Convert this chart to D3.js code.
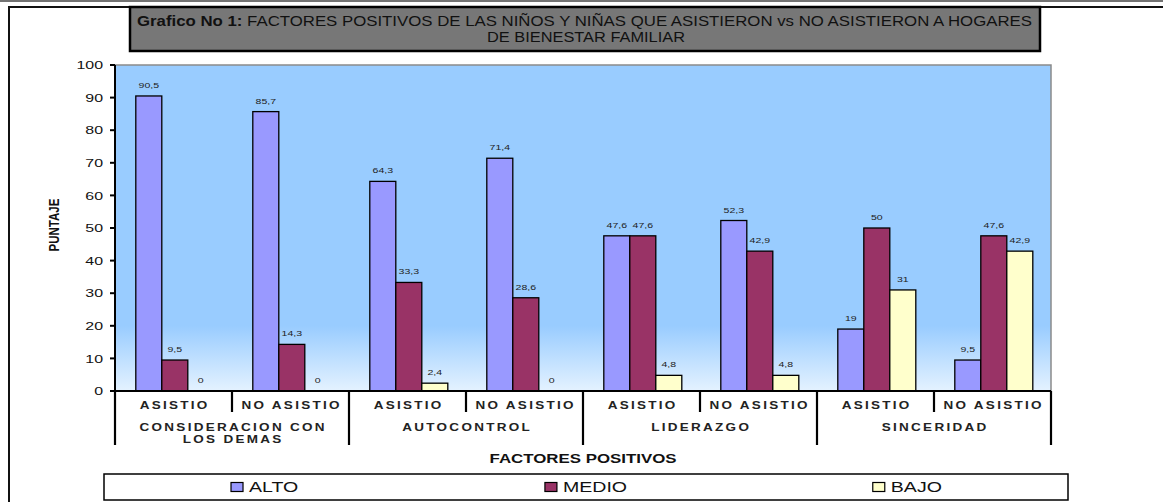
<!DOCTYPE html>
<html>
<head>
<meta charset="utf-8">
<script src="https://cdn.jsdelivr.net/npm/d3@7"></script>
<style>
  html, body { margin: 0; padding: 0; background: #fff; }
  svg { display: block; font-family: "Liberation Sans", Arial, sans-serif; }
</style>
</head>
<body>
<svg id="chart" width="1163" height="502"></svg>
<script>
// ---- data ----
const factors = ["CONSIDERACION CON\nLOS DEMAS", "AUTOCONTROL", "LIDERAZGO", "SINCERIDAD"];
const groups = ["ASISTIO", "NO ASISTIO"];
const seriesNames = ["ALTO", "MEDIO", "BAJO"];
const alto  = [90.5, 85.7, 64.3, 71.4, 47.6, 52.3, 19, 9.5];
const medio = [9.5, 14.3, 33.3, 28.6, 47.6, 42.9, 50, 47.6];
const bajo  = [0, 0, 2.4, 0, 4.8, 4.8, 31, 42.9];
const yTicks = [0, 10, 20, 30, 40, 50, 60, 70, 80, 90, 100];
const seriesColors = ["#9999FF", "#993366", "#FFFFCC"];

const titleBold = "Grafico No 1:";
const titleRest = " FACTORES POSITIVOS DE LAS NIÑOS Y NIÑAS QUE ASISTIERON vs NO ASISTIERON A HOGARES";
const titleLine2 = "DE BIENESTAR FAMILIAR";
const yTitle = "PUNTAJE";
const xTitle = "FACTORES POSITIVOS";

// ---- layout ----
const SX = 1.35; // horizontal stretch applied to the text
const plot = { left: 115, right: 1051, top: 65, bottom: 391 };
const svg = d3.select("#chart");

const cells = [];
factors.forEach((f, fi) => groups.forEach((g, gi) => cells.push({ id: fi * 2 + gi, factor: f, group: g })));
const series = [alto, medio, bajo];

const x = d3.scaleBand().domain(cells.map(c => c.id)).range([plot.left, plot.right]).padding(0);
const step = x.bandwidth();
const barW = step / 4.5;
const xInner = d3.scaleBand().domain(seriesNames).range([barW * 0.8, step - barW * 0.7]).padding(0);
const y = d3.scaleLinear().domain([0, 100]).range([plot.bottom, plot.top]);
const fmt = v => String(v).replace(".", ",");

function stretchedText(parent, px, py, str) {
  return parent.append("text")
    .attr("transform", `translate(${px},${py}) scale(${SX},1)`)
    .text(str);
}

// ---- outer frame ----
svg.append("line").attr("x1", 0).attr("x2", 1163).attr("y1", 1).attr("y2", 1)
  .attr("stroke", "#444").attr("stroke-width", 1.5);
svg.append("path").attr("d", "M9,502 V7 H1163").attr("fill", "none")
  .attr("stroke", "#111").attr("stroke-width", 2);

// ---- title box ----
svg.append("rect").attr("x", 130).attr("y", 7).attr("width", 910).attr("height", 44)
  .attr("fill", "#777777").attr("stroke", "#000").attr("stroke-width", 2.5);
const t1 = svg.append("text").attr("x", 137).attr("y", 26)
  .attr("font-size", 14).attr("fill", "#111")
  .attr("textLength", 895).attr("lengthAdjust", "spacingAndGlyphs");
t1.append("tspan").attr("font-weight", "bold").text(titleBold);
t1.append("tspan").text(titleRest);
svg.append("text").attr("x", 487).attr("y", 42)
  .attr("font-size", 14).attr("fill", "#111")
  .attr("textLength", 198).attr("lengthAdjust", "spacingAndGlyphs")
  .text(titleLine2);

// ---- plot background ----
const defs = svg.append("defs");
const grad = defs.append("linearGradient").attr("id", "bgGrad")
  .attr("x1", 0).attr("y1", 0).attr("x2", 0).attr("y2", 1);
grad.append("stop").attr("offset", "0%").attr("stop-color", "#99CCFF");
grad.append("stop").attr("offset", "80%").attr("stop-color", "#99CCFF");
grad.append("stop").attr("offset", "100%").attr("stop-color", "#E4F2FF");
svg.append("rect").attr("x", plot.left).attr("y", plot.top)
  .attr("width", plot.right - plot.left).attr("height", plot.bottom - plot.top)
  .attr("fill", "url(#bgGrad)");
svg.append("path").attr("d", `M${plot.left},${plot.top} H${plot.right} V${plot.bottom}`)
  .attr("fill", "none").attr("stroke", "#8a8a8a").attr("stroke-width", 1.5);

// ---- bars ----
const barLayer = svg.append("g");
series.forEach((vals, si) => {
  const name = seriesNames[si];
  barLayer.selectAll(null).data(cells).join("rect")
    .attr("x", c => x(c.id) + xInner(name))
    .attr("y", c => y(vals[c.id]))
    .attr("width", xInner.bandwidth())
    .attr("height", c => y(0) - y(vals[c.id]))
    .attr("fill", seriesColors[si])
    .attr("stroke", "#000").attr("stroke-width", 1.3);
});

// value labels
const labelLayer = svg.append("g").attr("font-size", 7.8).attr("fill", "#222").attr("text-anchor", "middle");
series.forEach((vals, si) => {
  const name = seriesNames[si];
  cells.forEach(c => {
    stretchedText(labelLayer, x(c.id) + xInner(name) + xInner.bandwidth() / 2, y(vals[c.id]) - 8, fmt(vals[c.id]));
  });
});

// ---- y axis ----
const yAxis = svg.append("g");
yAxis.append("line").attr("x1", plot.left).attr("x2", plot.left).attr("y1", plot.top).attr("y2", plot.bottom)
  .attr("stroke", "#000").attr("stroke-width", 2);
yAxis.selectAll(".tick").data(yTicks).join("line")
  .attr("x1", plot.left - 5).attr("x2", plot.left).attr("y1", d => y(d)).attr("y2", d => y(d))
  .attr("stroke", "#000").attr("stroke-width", 2);
const yLab = yAxis.append("g").attr("font-size", 11.8).attr("fill", "#111").attr("text-anchor", "end");
yTicks.forEach(d => stretchedText(yLab, 103, y(d) + 4.2, String(d)));

// y title
svg.append("text")
  .attr("transform", `translate(59,225) scale(${SX},1) rotate(-90)`)
  .attr("text-anchor", "middle").attr("font-size", 11.5).attr("font-weight", "bold").attr("fill", "#111")
  .text(yTitle);

// ---- x axis ----
const xAxis = svg.append("g");
xAxis.append("line").attr("x1", plot.left - 5).attr("x2", plot.right).attr("y1", plot.bottom).attr("y2", plot.bottom)
  .attr("stroke", "#000").attr("stroke-width", 2.2);
const bounds = d3.range(cells.length + 1);
xAxis.selectAll(".sep").data(bounds).join("line")
  .attr("x1", i => plot.left + i * step).attr("x2", i => plot.left + i * step)
  .attr("y1", plot.bottom).attr("y2", i => (i % 2 === 0 ? 445 : 412))
  .attr("stroke", "#000").attr("stroke-width", 2.2);

const LS = 1.7;
const subLab = xAxis.append("g").attr("font-size", 10).attr("font-weight", "bold").attr("fill", "#222")
  .attr("text-anchor", "middle").attr("letter-spacing", LS);
cells.forEach(c => stretchedText(subLab, x(c.id) + step / 2 + LS * SX / 2, 409, c.group));

const mainLab = xAxis.append("g").attr("font-size", 10).attr("font-weight", "bold").attr("fill", "#222")
  .attr("text-anchor", "middle").attr("letter-spacing", LS);
factors.forEach((f, fi) => {
  const cx = plot.left + (fi * 2 + 1) * step + LS * SX / 2;
  f.split("\n").forEach((line, li) => stretchedText(mainLab, cx, 431 + li * 11.5, line));
});

// x title
const xt = svg.append("g").attr("font-size", 12.5).attr("font-weight", "bold").attr("fill", "#111")
  .attr("text-anchor", "middle");
stretchedText(xt, (plot.left + plot.right) / 2, 463, xTitle);

// ---- legend ----
const legend = { left: 104, right: 1068, top: 474, bottom: 500 };
svg.append("rect").attr("x", legend.left).attr("y", legend.top)
  .attr("width", legend.right - legend.left).attr("height", legend.bottom - legend.top)
  .attr("fill", "#fff").attr("stroke", "#000").attr("stroke-width", 1.5);
const lx = d3.scaleBand().domain(seriesNames).range([legend.left, legend.right]);
seriesNames.forEach((name, i) => {
  const g = svg.append("g");
  const label = stretchedText(g, 0, 492, name).attr("font-size", 14.5).attr("fill", "#111");
  const tw = label.node().getComputedTextLength() * SX;
  const markerW = 12, gap = 6;
  const total = markerW + gap + tw;
  const start = lx(name) + lx.bandwidth() / 2 - total / 2;
  g.append("rect").attr("x", start).attr("y", 482.5).attr("width", markerW).attr("height", 9)
    .attr("fill", seriesColors[i]).attr("stroke", "#000").attr("stroke-width", 1.2);
  label.attr("transform", `translate(${start + markerW + gap},492) scale(${SX},1)`);
});
</script>
</body>
</html>
